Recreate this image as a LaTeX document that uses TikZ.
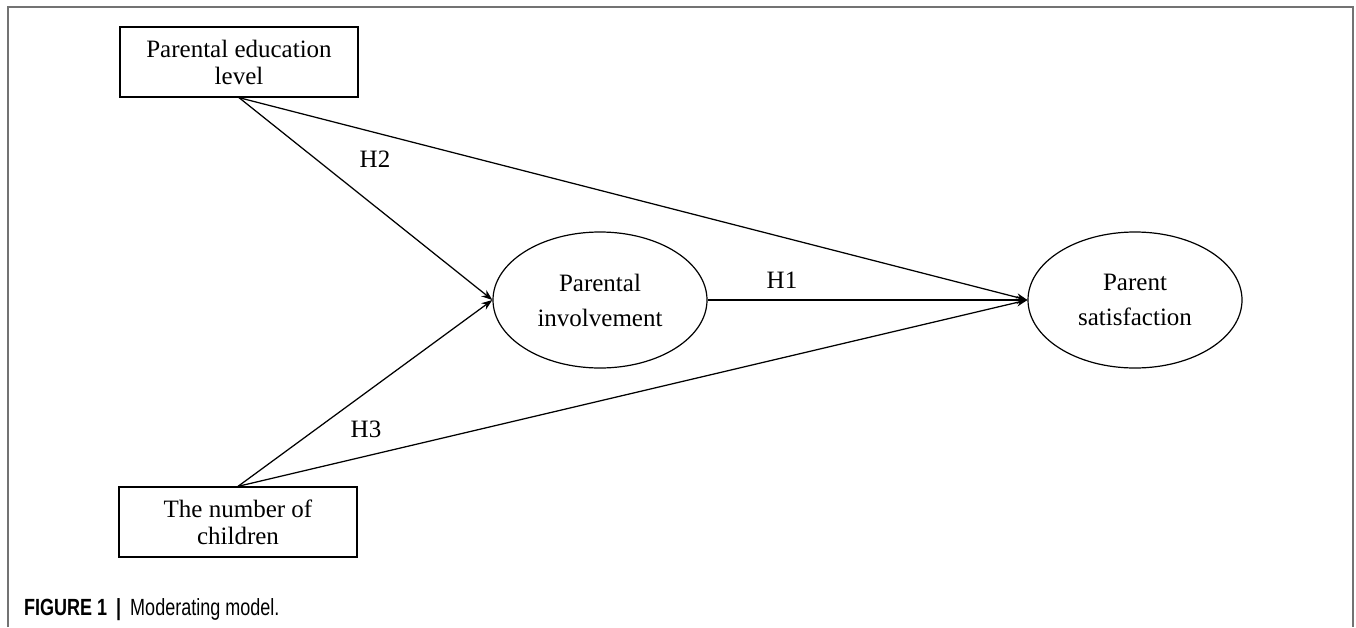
\documentclass[tikz,border=0pt]{standalone}
\usepackage{fontspec}
\setmainfont{Liberation Serif}
\newfontfamily\capfont{Liberation Sans}
\usepackage{graphicx}
\usepackage{tikz}
\usetikzlibrary{shapes.geometric, arrows.meta}

\begin{document}
\begin{tikzpicture}[
    x=1pt, y=-1pt,
    factor/.style={rectangle, draw, line width=1.3pt, minimum width=238pt, minimum height=70pt, align=center, font=\fontsize{25}{27}\selectfont},
    latent/.style={ellipse, draw, line width=1.2pt, minimum width=214pt, minimum height=136pt, align=center, font=\fontsize{25}{35}\selectfont},
    hyp/.style={font=\fontsize{25}{27}\selectfont},
    link/.style={line width=1.25pt},
    ->, >={Stealth[length=11pt, width=8pt]}
]
\useasboundingbox (0,0) rectangle (1356,627);

% Frame
\draw[-, gray!90!black, line width=1.6pt] (8,627) -- (8,7) -- (1353,7) -- (1353,627);

% Variables
\node[factor] (edu) at (239, 62) {Parental education\\level};
\node[factor] (kids) at (238, 522) {The number of\\children};
\node[latent] (inv) at (600, 300) {Parental\\involvement};
\node[latent] (sat) at (1135, 300) {Parent\\satisfaction};

% Paths
\draw[link] (edu.south) -- (inv.west);
\draw[link] (edu.south) -- (sat.west);
\draw[link] (kids.north) -- (inv.west);
\draw[link] (kids.north) -- (sat.west);
\draw[link] (inv.east) -- (sat.west);

% Hypotheses
\node[hyp] (h1) at (782, 280) {H1};
\node[hyp] (h2) at (375, 159) {H2};
\node[hyp] (h3) at (366, 429) {H3};

% Caption
\node[anchor=base west, inner sep=0pt, font=\capfont\fontsize{18}{22}\selectfont] (cap) at (24, 615)
    {\scalebox{1}[1.3]{\textbf{FIGURE 1}\hspace{9pt}\textbf{|}\hspace{9pt}Moderating model.}};

\end{tikzpicture}
\end{document}
